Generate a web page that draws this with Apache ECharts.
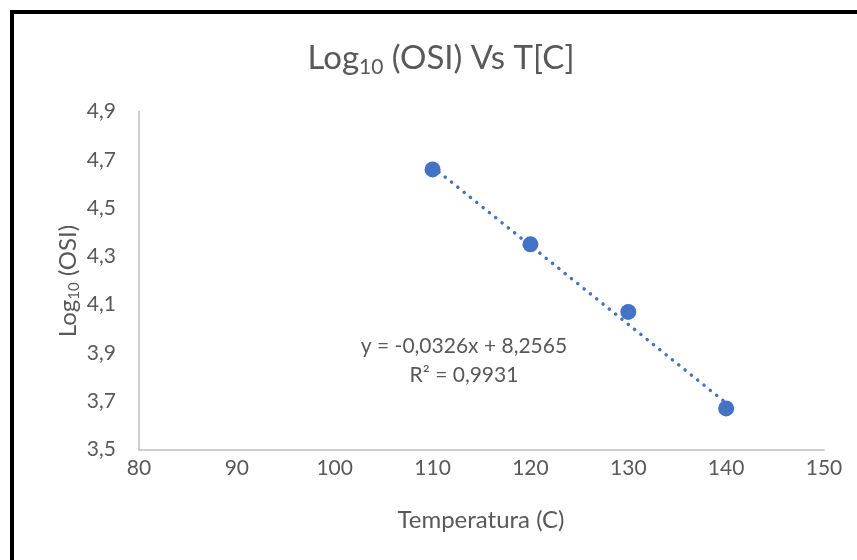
<!DOCTYPE html>
<html>
<head>
<meta charset="utf-8">
<script src="https://cdn.jsdelivr.net/npm/echarts@6/dist/echarts.min.js"></script>
<style>
html,body{margin:0;padding:0;background:#fff;}
#chart{width:857px;height:560px;}
</style>
</head>
<body>
<div id="chart"></div>
<script>
// ---- data ----
const temperatures = [110, 120, 130, 140];
const logOSI = [4.66, 4.35, 4.07, 3.67];
const trendSlope = -0.0326;
const trendIntercept = 8.2565;
const trendR2 = 0.9931;
const xTicks = [80, 90, 100, 110, 120, 130, 140, 150];
const yTicks = [3.5, 3.7, 3.9, 4.1, 4.3, 4.5, 4.7, 4.9];

const FONT = 'Lato, "Open Sans", sans-serif';
const GREY = '#595959';
const BLUE = '#4472C4';
const comma = (v, d) => v.toFixed(d).replace('.', ',');

const points = temperatures.map((t, i) => [t, logOSI[i]]);
const trendX = [temperatures[0], temperatures[temperatures.length - 1]];
const trend = trendX.map(x => [x, trendSlope * x + trendIntercept]);

const chart = echarts.init(document.getElementById('chart'), null, {renderer: 'canvas'});
chart.setOption({
  animation: false,
  backgroundColor: '#fff',
  grid: {left: 139, right: 33, top: 111.5, bottom: 110.5},
  xAxis: {
    type: 'value', min: xTicks[0], max: xTicks[xTicks.length - 1], interval: 10,
    axisLine: {show: true, lineStyle: {color: '#BFBFBF', width: 1.5}},
    axisTick: {show: false},
    splitLine: {show: false},
    axisLabel: {color: GREY, fontFamily: FONT, fontSize: 21, margin: 8,
      formatter: v => String(Math.round(v))}
  },
  yAxis: {
    type: 'value', min: yTicks[0], max: yTicks[yTicks.length - 1], interval: 0.2,
    axisLine: {show: true, lineStyle: {color: '#BFBFBF', width: 1.5}},
    axisTick: {show: false},
    splitLine: {show: false},
    axisLabel: {color: GREY, fontFamily: FONT, fontSize: 21, margin: 23,
      formatter: v => comma(v, 1)}
  },
  series: [
    {
      type: 'line', data: trend, showSymbol: false, symbol: 'none',
      lineStyle: {color: BLUE, width: 3.5, type: [0.1, 8], cap: 'round'},
      z: 1, silent: true
    },
    {
      type: 'scatter', data: points, symbol: 'circle', symbolSize: 16,
      itemStyle: {color: BLUE, opacity: 1}, z: 2
    }
  ],
  graphic: [
    {type: 'rect', shape: {x: 12, y: 12, width: 900, height: 600},
      style: {fill: null, stroke: '#000', lineWidth: 4}, z: 100},
    {type: 'text', x: 441, y: 58,
      style: {text: '{a|Log}{s|10}{a| (OSI) Vs T[C]}', align: 'center', verticalAlign: 'middle',
        rich: {
          a: {fontFamily: FONT, fontSize: 33, fill: GREY, color: GREY},
          s: {fontFamily: FONT, fontSize: 21, fill: GREY, color: GREY, padding: [18, 0, 0, 0]}
        }}},
    {type: 'text', x: 68, y: 281, rotation: Math.PI / 2,
      style: {text: '{a|Log}{s|10}{a| (OSI)}', align: 'center', verticalAlign: 'middle',
        rich: {
          a: {fontFamily: FONT, fontSize: 24, fill: GREY, color: GREY},
          s: {fontFamily: FONT, fontSize: 15, fill: GREY, color: GREY, padding: [13, 0, 0, 0]}
        }}},
    {type: 'text', x: 481, y: 520,
      style: {text: 'Temperatura (C)', align: 'center', verticalAlign: 'middle',
        fontFamily: FONT, fontSize: 24, fill: GREY}},
    {type: 'text', x: 464, y: 346,
      style: {text: 'y = ' + comma(trendSlope, 4) + 'x + ' + comma(trendIntercept, 4),
        align: 'center', verticalAlign: 'middle', fontFamily: FONT, fontSize: 21, fill: GREY}},
    {type: 'text', x: 464, y: 375,
      style: {text: 'R² = ' + comma(trendR2, 4),
        align: 'center', verticalAlign: 'middle', fontFamily: FONT, fontSize: 21, fill: GREY}}
  ]
});
</script>
</body>
</html>
